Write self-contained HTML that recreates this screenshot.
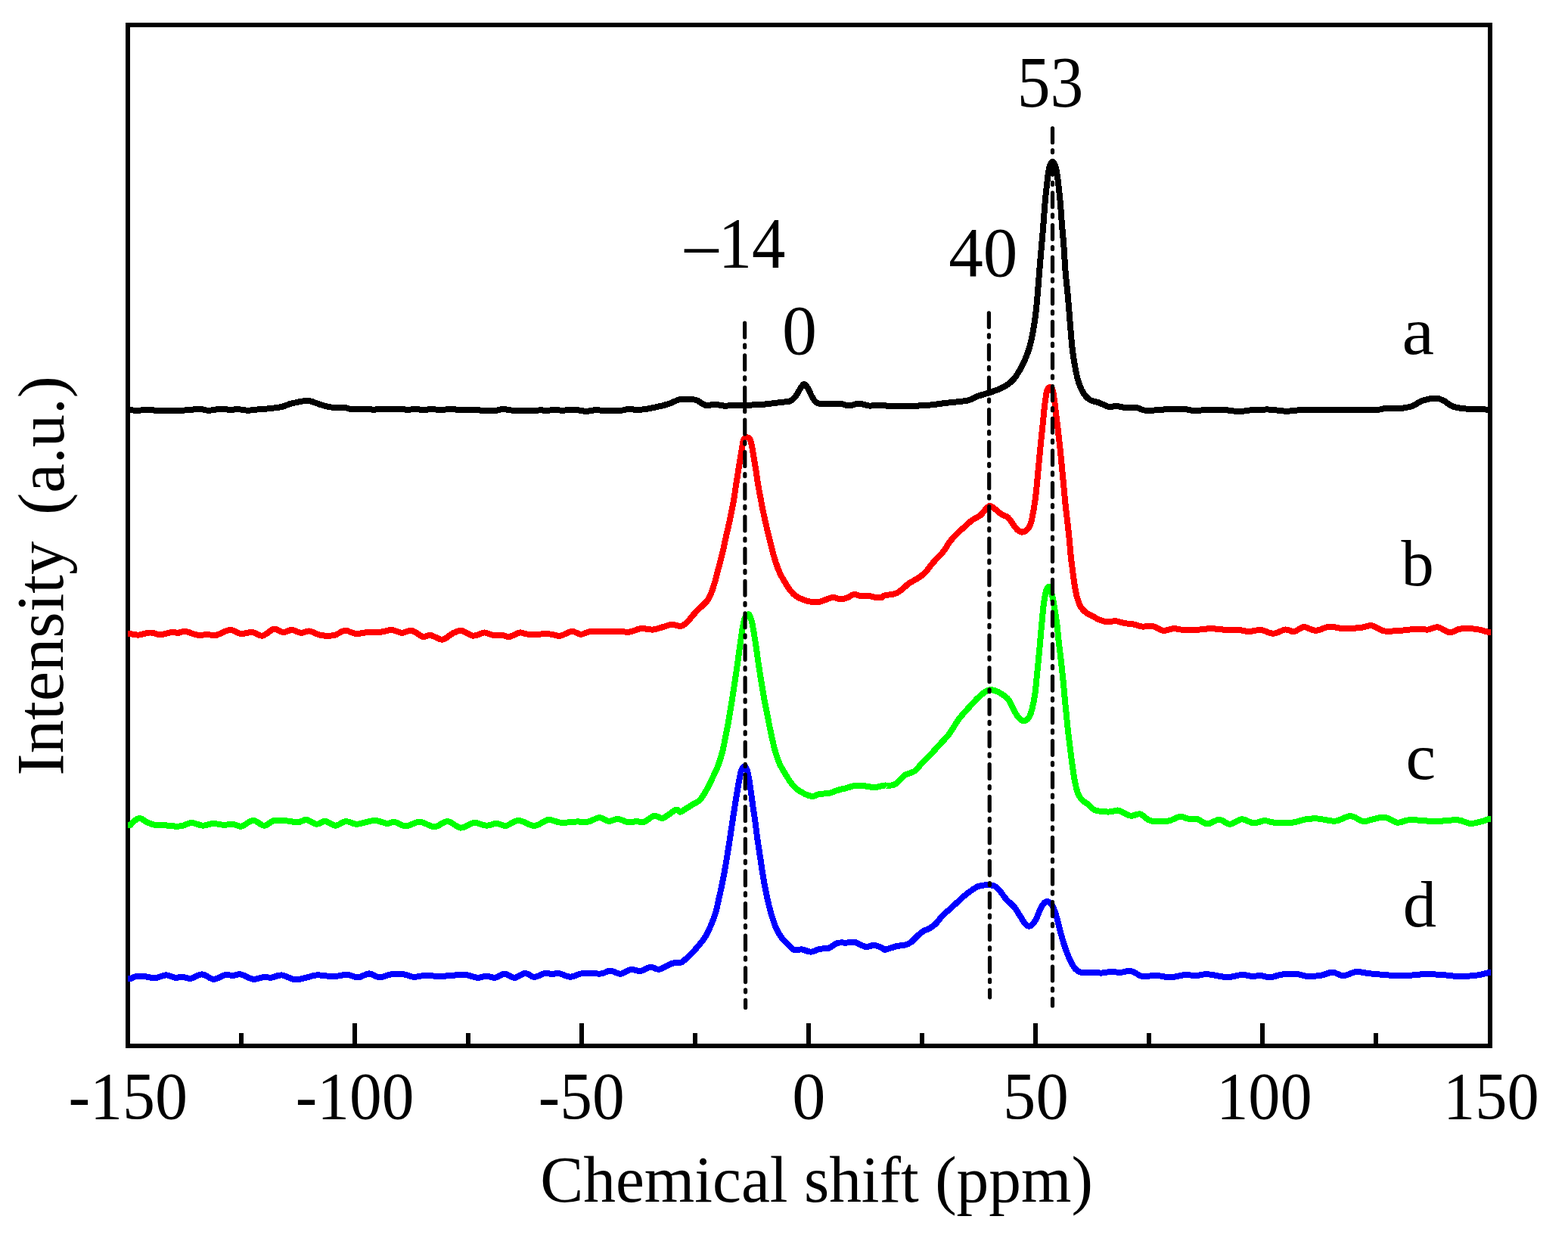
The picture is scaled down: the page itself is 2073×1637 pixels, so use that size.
<!DOCTYPE html>
<html lang="en">
<head>
<meta charset="utf-8">
<title>NMR spectra</title>
<style>
html,body{margin:0;padding:0;background:#fff;}
body{width:2073px;height:1637px;overflow:hidden;}
svg{display:block;}
text{font-family:"Liberation Serif","Times New Roman",Times,serif;fill:#000;white-space:pre;}
.curve{fill:none;stroke-width:8;stroke-linejoin:round;stroke-linecap:butt;shape-rendering:crispEdges;}
.dd{fill:none;stroke:#000;stroke-width:5.2;stroke-dasharray:18.8 10.2 3 10.63;stroke-linecap:round;}
.ax{fill:none;stroke:#000;stroke-width:6;}
</style>
</head>
<body>
<svg width="2073" height="1637" viewBox="0 0 2073 1637">
<rect x="0" y="0" width="2073" height="1637" fill="#ffffff"/>
<g id="axes">
<rect class="ax" x="169" y="33" width="1801" height="1350"/>
<path class="ax" d="M319,1366V1382M469,1353V1382M619,1366V1382M769,1353V1382M919,1366V1382M1069,1353V1382M1219,1366V1382M1369,1353V1382M1519,1366V1382M1669,1353V1382M1819,1366V1382"/>
</g>
<g id="curves">
<path class="curve" stroke="#000000" d="M169,542.3L172.2,542.3C174.0,542.4 179.6,542.8 183.2,542.7C186.8,542.6 189.6,541.9 193.8,541.9C198.0,541.9 201.0,542.6 208.2,542.7C215.4,542.8 230.1,542.8 237.2,542.7C244.3,542.6 246.2,542.4 250.7,542.1C255.2,541.8 260.0,540.6 264.2,540.7C268.4,540.8 271.3,542.8 275.8,542.8C280.3,542.8 286.4,540.9 291.2,540.7C296.0,540.6 300.8,541.8 304.7,541.9C308.6,542.0 310.5,541.0 314.4,541.1C318.3,541.2 323.1,542.7 327.9,542.7C332.7,542.7 339.1,541.5 343.3,541.1C347.5,540.7 348.2,541.0 353.0,540.5C357.8,540.0 367.5,539.0 372.3,538.0C377.1,537.0 378.7,535.5 381.9,534.5C385.1,533.5 387.7,533.0 391.5,532.2C395.3,531.4 401.1,530.1 404.7,529.9C408.2,529.7 409.5,530.2 412.8,531.1C416.1,532.0 419.9,534.0 424.4,535.3C428.9,536.6 434.3,538.1 439.8,538.8C445.3,539.4 453.0,538.8 457.2,539.2C461.4,539.6 459.8,540.8 464.9,541.1C470.0,541.4 483.2,540.9 488.0,541.1C492.8,541.3 491.9,542.3 493.8,542.3C495.7,542.3 493.8,541.3 499.6,541.1C506.0,540.9 526.0,540.9 532.4,541.1C538.2,541.3 536.0,542.3 538.2,542.3C540.5,542.3 542.7,541.2 545.9,541.1C549.1,541.0 554.5,541.6 557.5,541.7C560.5,541.8 561.9,541.8 563.9,541.7C565.9,541.6 566.4,541.1 569.6,541.1C572.8,541.1 578.7,541.9 583.2,541.9C587.7,541.9 592.9,540.9 596.7,540.9C600.6,540.9 601.2,541.7 606.3,541.9C611.4,542.1 621.4,542.1 627.5,542.3C633.6,542.4 638.2,542.7 643.0,542.8C647.8,542.9 652.8,543.1 656.5,542.7C660.2,542.4 661.7,540.7 665.2,540.7C668.7,540.7 670.5,542.4 677.7,542.7C684.9,543.0 702.5,542.8 708.6,542.7C714.4,542.6 712.1,542.1 714.4,542.1C716.6,542.1 718.9,543.0 722.1,543.0C725.3,543.0 730.2,541.9 733.7,541.9C737.2,541.9 738.8,542.7 743.3,542.7C747.8,542.7 755.4,541.7 760.7,541.9C766.0,542.1 770.3,543.8 775.1,543.8C779.9,543.8 786.2,541.9 789.6,541.7C793.0,541.5 790.2,542.6 795.4,542.8C800.5,543.0 814.7,543.1 820.5,542.8C826.3,542.5 826.9,541.1 830.1,540.9C833.3,540.7 836.2,541.6 839.8,541.7C843.3,541.8 846.6,541.9 851.4,541.3C856.2,540.7 863.2,539.2 868.7,538.0C874.2,536.8 879.4,535.6 884.2,534.0C889.0,532.4 893.9,529.4 897.7,528.4C901.6,527.4 903.4,527.9 907.3,528.0C911.1,528.1 916.6,527.8 920.8,529.1C925.0,530.4 928.2,534.7 932.4,535.7C936.6,536.7 941.7,534.7 945.9,534.9C950.1,535.1 954.8,536.4 957.5,536.7C960.2,537.0 958.3,536.6 961.9,536.5C965.5,536.4 972.2,536.1 979.3,535.9C986.4,535.7 998.0,535.5 1004.4,535.1C1010.8,534.8 1013.1,534.3 1017.9,533.8C1022.7,533.2 1028.8,532.4 1033.3,531.8C1037.8,531.2 1041.7,531.8 1044.9,530.3C1048.1,528.8 1050.3,525.8 1052.6,523.0C1054.8,520.2 1056.6,515.8 1058.4,513.3C1060.2,510.8 1061.6,507.9 1063.2,507.9C1064.8,507.9 1066.3,510.5 1068.1,513.3C1069.9,516.1 1071.7,521.6 1073.8,524.9C1075.9,528.2 1077.0,531.5 1080.6,533.0C1084.1,534.5 1090.1,534.1 1095.1,534.2C1100.1,534.3 1105.8,533.4 1110.5,533.8C1115.2,534.2 1119.0,536.5 1123.0,536.5C1127.0,536.5 1130.2,533.6 1134.6,533.6C1138.9,533.6 1144.4,536.1 1149.1,536.5C1153.8,536.9 1157.1,535.6 1162.6,535.7C1168.1,535.9 1175.5,537.2 1181.9,537.4C1188.3,537.6 1193.2,537.4 1201.2,537.1C1209.2,536.8 1222.1,536.2 1230.1,535.5C1238.1,534.8 1241.4,534.0 1249.4,533.0C1257.5,532.0 1271.2,531.2 1278.4,529.7C1285.6,528.2 1286.6,526.0 1292.3,524.0C1298.0,522.0 1306.6,519.9 1312.6,517.7C1318.6,515.5 1323.9,513.5 1328.4,510.9C1332.9,508.3 1336.3,505.7 1339.7,501.9C1343.1,498.1 1346.2,492.8 1348.8,488.3C1351.4,483.8 1353.4,479.6 1355.5,474.7C1357.6,469.8 1359.5,464.9 1361.2,458.9C1362.9,452.9 1364.4,445.8 1365.7,438.6C1367.0,431.5 1368.1,423.5 1369.1,416.0C1370.0,408.5 1370.6,402.8 1371.4,393.4C1372.2,384.0 1373.2,370.8 1374.1,359.5C1375.0,348.2 1376.1,335.8 1377.0,325.6C1377.9,315.4 1378.5,307.9 1379.3,298.5C1380.0,289.1 1380.8,277.8 1381.5,269.1C1382.2,260.4 1383.0,253.3 1383.8,246.5C1384.5,239.7 1385.2,233.1 1386.0,228.4C1386.8,223.7 1387.4,220.6 1388.3,218.2C1389.2,215.8 1390.5,213.7 1391.5,213.7C1392.5,213.7 1393.6,215.8 1394.6,218.2C1395.6,220.6 1396.5,223.7 1397.3,228.4C1398.1,233.1 1398.8,239.7 1399.6,246.5C1400.4,253.3 1401.2,260.4 1401.9,269.1C1402.7,277.8 1403.3,289.1 1404.1,298.5C1404.8,307.9 1405.7,315.4 1406.4,325.6C1407.2,335.8 1407.7,348.2 1408.6,359.5C1409.5,370.8 1411.0,382.1 1412.0,393.4C1413.0,404.7 1413.8,416.0 1414.7,427.3C1415.7,438.6 1416.6,451.8 1417.7,461.2C1418.8,470.6 1419.8,476.6 1421.1,483.8C1422.4,491.0 1423.7,498.1 1425.6,504.1C1427.5,510.1 1429.8,515.8 1432.4,519.9C1435.0,524.0 1438.0,526.9 1441.4,529.0C1444.8,531.1 1448.6,530.9 1452.7,532.4C1456.8,533.9 1462.5,537.2 1466.3,538.0C1470.1,538.8 1471.5,536.7 1475.3,536.9C1479.1,537.1 1484.4,538.9 1488.9,539.2C1493.4,539.6 1498.1,538.4 1502.5,539.0C1506.9,539.6 1508.5,542.5 1515.5,542.9C1522.5,543.2 1536.0,541.5 1544.2,541.1C1552.5,540.8 1559.3,540.5 1565.0,540.8C1570.7,541.1 1572.9,542.7 1578.1,542.9C1583.3,543.1 1588.9,542.2 1596.3,542.1C1603.7,542.0 1615.3,542.0 1622.3,542.4C1629.2,542.8 1632.3,544.2 1638.0,544.2C1643.7,544.2 1649.3,542.5 1656.2,542.1C1663.1,541.7 1672.2,541.3 1679.6,541.6C1687.0,541.9 1692.7,543.7 1700.5,543.7C1708.3,543.7 1717.8,541.8 1726.5,541.6C1735.2,541.4 1743.9,542.4 1752.6,542.4C1761.3,542.4 1769.9,541.6 1778.6,541.6C1787.3,541.6 1797.8,542.3 1804.7,542.4C1811.7,542.5 1815.5,542.5 1820.3,542.1C1825.1,541.7 1828.5,540.1 1833.3,539.8C1838.1,539.5 1843.3,540.8 1849.0,540.3C1854.7,539.8 1862.0,538.6 1867.2,536.9C1872.4,535.2 1875.0,531.6 1880.2,529.9C1885.4,528.2 1893.7,526.7 1898.5,526.7C1903.3,526.7 1905.4,528.2 1908.9,529.9C1912.4,531.6 1915.0,535.2 1919.3,536.9C1923.6,538.6 1927.0,539.5 1934.9,540.3C1942.8,541.1 1961.5,541.4 1966.8,541.6L1971,541.6"/>
<path class="curve" stroke="#ff0000" d="M169,838.0L172.2,838.0C174.0,838.3 178.8,839.9 183.2,839.6C187.6,839.4 193.8,836.6 198.6,836.5C203.4,836.4 207.3,839.3 212.1,839.2C216.9,839.1 223.6,836.3 227.5,835.9C231.4,835.5 232.4,837.1 235.3,836.9C238.2,836.7 240.4,834.4 244.9,834.9C249.4,835.4 257.5,839.4 262.3,840.0C267.1,840.6 270.0,838.8 273.8,838.8C277.6,838.8 280.4,841.0 285.4,840.0C290.4,839.0 298.3,833.3 303.8,833.0C309.3,832.7 313.2,837.5 318.2,838.0C323.2,838.5 328.9,835.6 333.7,836.1C338.5,836.6 342.1,841.4 346.8,840.7C351.6,840.0 357.6,832.6 362.2,831.8C366.8,831.0 370.3,835.9 374.2,836.1C378.1,836.3 381.8,832.9 385.8,833.0C389.8,833.1 394.5,836.6 398.3,836.9C402.1,837.1 404.5,834.0 408.9,834.5C413.2,835.0 418.9,839.1 424.4,840.0C429.9,840.9 436.4,841.0 441.7,840.0C447.0,839.0 451.4,834.1 456.2,833.8C461.0,833.5 465.4,837.7 470.7,838.0C476.0,838.3 482.5,836.1 488.0,835.7C493.5,835.3 498.5,836.2 503.5,835.7C508.5,835.2 513.2,832.8 517.9,833.0C522.5,833.2 527.0,836.8 531.4,836.9C535.8,837.0 539.6,833.1 544.0,833.8C548.4,834.5 554.5,840.0 557.5,841.3C560.5,842.6 559.9,841.9 561.9,841.7C563.9,841.5 565.7,839.3 569.6,840.0C573.5,840.7 580.3,846.1 585.1,845.7C589.9,845.3 594.4,839.4 598.6,837.4C602.8,835.4 605.7,833.5 610.2,834.0C614.7,834.5 620.6,840.3 625.6,840.7C630.6,841.1 635.9,836.7 640.1,836.5C644.3,836.3 646.7,839.0 650.7,839.6C654.7,840.2 660.4,839.6 664.2,840.0C668.1,840.4 669.9,842.5 673.8,841.9C677.7,841.3 683.2,837.0 687.4,836.5C691.6,836.0 692.5,838.5 698.9,838.8C705.3,839.1 719.0,838.1 725.9,838.4C732.8,838.7 735.4,841.3 740.4,840.7C745.4,840.1 751.2,835.2 755.9,834.9C760.6,834.6 764.1,838.8 768.4,838.8C772.7,838.8 773.5,835.5 781.9,834.9C790.3,834.2 810.2,834.8 818.6,834.9C827.0,835.0 827.3,836.3 832.1,835.7C836.9,835.1 842.4,831.6 847.5,831.1C852.6,830.6 858.1,832.9 862.9,832.6C867.7,832.3 872.2,830.2 876.4,829.1C880.6,828.0 884.1,826.1 888.0,825.9C891.9,825.7 896.4,828.3 899.6,828.0C902.8,827.7 904.2,826.7 907.3,823.9C910.4,821.1 914.9,814.8 918.3,811.1C921.7,807.4 924.6,804.8 927.5,801.9C930.4,799.0 933.3,797.0 935.6,793.6C937.8,790.2 939.5,786.1 941.2,781.7C942.9,777.3 944.2,772.6 945.8,767.1C947.4,761.6 949.0,755.1 950.6,748.7C952.3,742.3 954.2,735.0 955.8,728.6C957.3,722.2 958.2,717.0 959.7,710.3C961.2,703.6 963.1,695.9 964.7,688.3C966.3,680.7 968.2,672.1 969.5,664.5C970.9,656.9 971.8,649.8 972.9,642.5C974.1,635.2 975.4,626.9 976.4,620.5C977.4,614.1 978.3,609.2 979.1,604.0C980.0,598.8 980.8,593.1 981.5,589.3C982.2,585.5 982.3,582.9 983.4,581.1C984.5,579.3 986.6,578.3 988.0,578.3C989.4,578.3 990.6,579.3 991.6,581.1C992.6,582.9 993.1,585.5 993.9,589.3C994.7,593.1 995.5,598.8 996.4,604.0C997.3,609.2 998.3,614.7 999.2,620.5C1000.1,626.3 1000.8,632.1 1001.9,638.8C1003.0,645.5 1004.5,653.8 1005.9,660.8C1007.2,667.8 1008.4,673.9 1009.9,680.9C1011.4,687.9 1013.2,695.9 1014.9,702.9C1016.5,709.9 1018.1,716.4 1019.8,723.1C1021.6,729.8 1023.6,737.5 1025.5,743.3C1027.4,749.1 1029.0,753.3 1031.1,757.9C1033.2,762.5 1035.9,766.9 1038.2,770.7C1040.5,774.5 1042.5,777.9 1044.8,780.8C1047.1,783.7 1049.3,786.1 1052.1,788.1C1054.8,790.1 1057.9,791.4 1061.3,792.7C1064.7,794.0 1068.6,795.3 1072.3,795.8C1076.0,796.3 1079.9,796.3 1083.3,795.8C1086.7,795.3 1089.4,793.7 1092.4,792.7C1095.5,791.7 1098.5,790.0 1101.6,790.0C1104.6,790.0 1107.7,792.3 1110.7,792.4C1113.8,792.5 1116.8,791.6 1119.9,790.5C1123.0,789.4 1126.0,786.3 1129.1,785.9C1132.1,785.5 1134.8,787.7 1138.2,788.1C1141.6,788.5 1145.8,787.8 1149.2,788.1C1152.6,788.4 1155.7,789.7 1158.4,790.0C1161.2,790.3 1163.8,790.5 1165.7,790.0C1167.6,789.5 1167.0,788.1 1170.0,787.3C1173.0,786.5 1179.8,786.3 1183.6,785.0C1187.4,783.7 1189.6,781.6 1192.6,779.4C1195.6,777.1 1197.8,774.1 1201.6,771.5C1205.4,768.9 1211.4,766.1 1215.2,763.5C1219.0,760.9 1221.3,758.8 1224.3,755.6C1227.3,752.4 1229.5,748.6 1233.3,744.3C1237.1,740.0 1243.1,734.3 1246.9,729.6C1250.7,724.9 1252.9,720.1 1255.9,716.1C1258.9,712.1 1261.5,709.3 1264.9,705.9C1268.3,702.5 1272.9,698.7 1276.3,695.7C1279.7,692.7 1281.9,690.2 1285.3,687.8C1288.7,685.3 1293.6,683.5 1296.6,681.0C1299.6,678.5 1301.3,675.1 1303.4,673.1C1305.5,671.1 1306.8,668.8 1309.0,669.0C1311.2,669.2 1314.5,672.4 1316.9,674.2C1319.4,676.0 1321.1,678.2 1323.7,679.9C1326.3,681.6 1330.2,682.1 1332.8,684.4C1335.4,686.7 1337.4,690.8 1339.5,693.5C1341.6,696.2 1343.3,699.0 1345.2,700.7C1347.1,702.4 1348.8,703.6 1350.9,703.6C1353.0,703.6 1355.7,702.4 1357.6,700.7C1359.5,699.0 1361.0,696.6 1362.2,693.5C1363.4,690.4 1364.0,687.9 1365.1,682.2C1366.2,676.5 1367.8,667.0 1368.8,659.5C1369.8,652.0 1370.4,644.8 1371.2,636.9C1372.0,629.0 1372.7,620.4 1373.5,612.1C1374.3,603.8 1375.1,595.5 1375.9,587.2C1376.7,578.9 1377.7,570.2 1378.5,562.3C1379.3,554.4 1380.0,546.1 1380.7,539.7C1381.4,533.3 1382.2,528.0 1382.8,523.9C1383.5,519.8 1383.9,516.8 1384.8,514.9C1385.7,513.0 1387.1,512.0 1388.2,512.2C1389.3,512.4 1390.7,512.9 1391.7,516.0C1392.7,519.1 1393.4,525.2 1394.2,530.7C1395.0,536.2 1395.5,542.4 1396.3,548.8C1397.1,555.2 1398.0,562.0 1398.8,569.1C1399.6,576.2 1400.5,583.8 1401.4,591.7C1402.2,599.6 1403.0,608.3 1403.8,616.6C1404.6,624.9 1405.4,633.2 1406.2,641.5C1407.0,649.8 1407.7,658.4 1408.5,666.3C1409.3,674.2 1410.2,681.4 1411.1,688.9C1411.9,696.4 1412.8,704.0 1413.6,711.5C1414.3,719.0 1414.9,727.4 1415.6,734.2C1416.3,741.0 1416.9,745.8 1417.8,752.2C1418.6,758.6 1419.6,766.6 1420.5,772.6C1421.5,778.6 1422.3,783.5 1423.6,788.4C1425.0,793.3 1426.6,798.4 1428.6,802.0C1430.6,805.6 1432.7,807.6 1435.6,809.9C1438.5,812.1 1442.6,813.8 1445.8,815.5C1449.0,817.2 1451.8,819.0 1454.8,820.1C1457.8,821.2 1460.5,822.1 1463.9,822.3C1467.3,822.5 1471.4,820.9 1475.2,821.2C1479.0,821.5 1482.7,823.4 1486.5,824.1C1490.3,824.8 1493.8,824.5 1497.8,825.3C1501.8,826.0 1506.0,828.2 1510.3,828.6C1514.6,829.0 1518.8,826.9 1523.4,827.8C1528.0,828.7 1532.9,833.2 1537.7,833.8C1542.5,834.4 1547.5,831.3 1552.0,831.2C1556.5,831.1 1559.3,832.8 1565.0,833.0C1570.7,833.2 1579.8,832.8 1585.9,832.5C1592.0,832.2 1595.4,831.1 1601.5,831.2C1607.6,831.3 1616.2,832.7 1622.3,833.0C1628.4,833.3 1633.2,832.6 1638.0,833.0C1642.8,833.4 1646.2,835.1 1651.0,835.1C1655.8,835.1 1661.2,832.6 1666.6,833.0C1672.0,833.4 1678.2,837.8 1683.6,837.7C1689.0,837.6 1694.7,832.9 1699.2,832.5C1703.8,832.1 1706.8,835.7 1710.9,835.1C1715.0,834.5 1719.1,829.3 1723.9,829.1C1728.7,828.9 1733.9,833.9 1739.6,833.8C1745.2,833.7 1751.7,829.0 1757.8,828.6C1763.9,828.2 1769.0,831.0 1776.0,831.2C1783.0,831.4 1793.2,830.5 1799.5,829.9C1805.8,829.2 1808.8,826.6 1813.8,827.3C1818.8,828.0 1823.1,833.2 1829.4,834.3C1835.7,835.4 1844.4,834.2 1851.6,833.8C1858.8,833.4 1866.3,831.9 1872.4,831.7C1878.5,831.5 1883.2,832.9 1888.0,832.5C1892.8,832.1 1896.3,828.6 1901.1,829.3C1905.9,829.9 1911.9,836.0 1916.7,836.4C1921.5,836.8 1924.1,832.5 1929.7,831.7C1935.3,830.9 1944.3,831.1 1950.5,831.7C1956.7,832.4 1964.1,835.0 1966.8,835.6L1971,835.6"/>
<path class="curve" stroke="#00ff00" d="M169,1091.3L172.2,1091.3C173.1,1090.3 175.2,1087.0 177.4,1085.5C179.6,1084.0 182.2,1081.7 185.1,1082.0C188.0,1082.3 191.5,1086.0 194.7,1087.4C197.9,1088.9 200.5,1090.1 204.4,1090.7C208.3,1091.3 213.1,1091.0 217.9,1091.3C222.7,1091.6 229.5,1092.6 233.3,1092.7C237.2,1092.8 237.6,1092.7 241.0,1091.9C244.4,1091.1 249.1,1088.0 253.6,1088.0C258.1,1088.0 263.4,1091.5 268.1,1091.7C272.8,1091.9 277.1,1089.2 281.6,1089.0C286.1,1088.8 290.6,1090.5 295.1,1090.7C299.6,1090.9 304.6,1089.7 308.6,1090.0C312.6,1090.3 314.9,1093.5 319.2,1092.7C323.5,1091.9 329.6,1085.1 334.6,1084.9C339.6,1084.7 344.4,1091.7 349.1,1091.7C353.8,1091.7 357.5,1085.9 362.6,1084.9C367.8,1083.9 374.9,1085.1 380.0,1085.5C385.1,1085.9 389.3,1087.7 393.5,1087.4C397.7,1087.2 401.2,1083.6 405.4,1084.0C409.6,1084.4 414.5,1089.5 418.6,1089.8C422.7,1090.1 425.9,1085.6 430.1,1085.9C434.3,1086.2 439.1,1091.7 443.6,1091.7C448.1,1091.7 452.7,1086.4 457.2,1086.1C461.7,1085.8 466.2,1089.6 470.7,1089.8C475.2,1090.0 479.9,1087.9 484.2,1087.1C488.5,1086.3 492.2,1084.6 496.7,1084.9C501.2,1085.2 507.0,1088.4 511.2,1088.8C515.4,1089.2 517.6,1086.5 521.8,1087.1C526.0,1087.7 531.3,1092.3 536.3,1092.3C541.3,1092.3 548.0,1087.9 551.7,1087.1C555.4,1086.3 556.8,1087.1 558.5,1087.4C560.2,1087.7 559.1,1087.8 561.9,1088.8C564.7,1089.8 570.4,1093.7 575.4,1093.2C580.4,1092.8 586.2,1085.9 591.8,1086.1C597.4,1086.3 603.4,1094.3 609.2,1094.6C615.0,1094.9 621.0,1088.5 626.6,1088.0C632.2,1087.5 638.0,1091.6 643.0,1091.7C648.0,1091.8 652.2,1088.8 656.5,1088.8C660.8,1088.8 664.2,1092.6 669.0,1091.9C673.8,1091.2 679.1,1084.9 685.4,1084.9C691.7,1084.9 700.0,1092.1 706.6,1091.9C713.2,1091.8 719.2,1084.7 725.0,1084.0C730.8,1083.3 735.1,1087.4 741.4,1087.8C747.7,1088.2 756.5,1086.7 762.6,1086.5C768.7,1086.3 773.0,1087.4 778.0,1086.5C783.0,1085.6 788.0,1081.2 792.5,1081.1C797.0,1081.0 801.1,1085.6 805.1,1085.9C809.1,1086.2 812.3,1082.8 816.6,1083.0C820.9,1083.2 826.9,1086.9 831.1,1087.4C835.3,1087.9 838.3,1086.2 841.7,1086.1C845.1,1086.0 847.5,1088.1 851.4,1086.9C855.3,1085.7 860.7,1079.7 864.9,1078.8C869.1,1077.9 871.7,1083.0 876.4,1081.7C881.1,1080.4 889.3,1072.5 892.9,1071.0C896.5,1069.5 896.5,1072.2 897.7,1072.6C898.9,1073.0 898.0,1074.2 900.0,1073.4C902.0,1072.6 906.9,1069.3 909.8,1067.5C912.7,1065.7 915.0,1064.2 917.6,1062.6C920.2,1061.0 922.8,1060.6 925.4,1057.8C928.0,1055.0 930.6,1050.6 933.2,1046.0C935.8,1041.4 938.4,1035.9 941.1,1030.4C943.8,1024.9 946.9,1019.0 949.2,1012.8C951.6,1006.6 953.6,999.8 955.3,993.3C956.9,986.8 958.0,980.6 959.3,973.7C960.7,966.9 962.1,960.0 963.4,952.2C964.8,944.4 966.2,935.6 967.6,926.8C969.0,918.0 970.4,908.5 971.8,899.4C973.2,890.3 974.6,880.2 975.8,872.1C976.9,864.0 977.7,857.5 978.7,850.6C979.7,843.8 980.6,836.5 981.6,831.0C982.6,825.5 983.4,820.5 984.6,817.4C985.8,814.3 988.0,813.1 989.0,812.5C990.0,811.9 990.1,812.0 990.9,813.5C991.7,815.0 992.8,817.4 993.8,821.3C994.8,825.2 995.7,831.0 996.7,836.9C997.7,842.8 998.8,849.6 999.8,856.4C1000.8,863.2 1001.6,870.1 1002.8,877.9C1004.0,885.7 1005.5,895.2 1006.8,903.4C1008.2,911.5 1009.3,918.7 1010.8,926.8C1012.3,934.9 1014.2,944.1 1015.8,952.2C1017.4,960.4 1019.0,968.5 1020.6,975.7C1022.2,982.9 1023.7,989.4 1025.4,995.2C1027.2,1001.1 1028.9,1005.9 1031.1,1010.8C1033.4,1015.7 1036.3,1020.2 1038.9,1024.5C1041.5,1028.8 1044.0,1033.0 1046.6,1036.3C1049.2,1039.6 1051.5,1041.8 1054.4,1044.1C1057.3,1046.4 1061.0,1048.4 1064.2,1049.9C1067.5,1051.4 1070.7,1052.9 1073.9,1052.9C1077.2,1052.9 1080.1,1050.6 1083.7,1049.9C1087.3,1049.2 1091.5,1049.8 1095.4,1049.0C1099.3,1048.2 1103.3,1046.2 1107.2,1045.0C1111.1,1043.8 1115.0,1043.1 1118.9,1042.1C1122.8,1041.1 1126.7,1039.3 1130.6,1038.8C1134.5,1038.3 1138.1,1038.8 1142.3,1039.2C1146.5,1039.6 1151.8,1041.2 1156.0,1041.1C1160.2,1041.0 1165.5,1039.2 1167.8,1038.8C1170.0,1038.4 1167.8,1038.6 1170.0,1038.5C1172.2,1038.4 1177.9,1039.1 1181.0,1038.1C1184.1,1037.1 1186.1,1034.8 1188.7,1032.6C1191.3,1030.4 1192.9,1027.1 1196.4,1024.9C1199.9,1022.7 1205.9,1022.0 1209.6,1019.4C1213.3,1016.8 1214.7,1013.4 1218.4,1009.5C1222.1,1005.6 1227.6,1000.5 1231.6,996.3C1235.6,992.1 1238.9,988.2 1242.6,984.2C1246.3,980.2 1250.3,976.3 1253.6,972.1C1256.9,967.9 1259.8,962.8 1262.4,958.9C1265.0,955.0 1266.4,952.3 1269.0,949.0C1271.6,945.7 1274.9,942.4 1277.8,939.1C1280.7,935.8 1283.7,932.3 1286.6,929.2C1289.5,926.1 1292.5,923.0 1295.4,920.4C1298.3,917.8 1301.6,915.2 1304.2,913.8C1306.8,912.4 1308.2,911.9 1310.8,912.1C1313.3,912.3 1316.6,913.5 1319.5,914.9C1322.4,916.3 1325.9,918.6 1328.3,920.4C1330.7,922.2 1332.0,923.1 1333.8,925.9C1335.6,928.6 1337.3,933.2 1339.3,936.9C1341.3,940.6 1343.7,945.1 1345.9,947.9C1348.1,950.6 1350.1,953.2 1352.5,953.4C1354.9,953.6 1358.2,951.8 1360.2,949.0C1362.2,946.2 1363.2,942.2 1364.6,936.9C1366.0,931.6 1367.4,924.4 1368.4,917.1C1369.5,909.8 1370.1,901.0 1370.9,893.0C1371.7,885.0 1372.5,876.9 1373.3,868.8C1374.1,860.7 1374.8,852.7 1375.5,844.6C1376.2,836.5 1377.0,828.1 1377.7,820.4C1378.4,812.7 1379.1,804.6 1379.9,798.4C1380.7,792.2 1381.8,786.5 1382.6,783.0C1383.4,779.5 1384.0,778.6 1384.8,777.5C1385.6,776.4 1386.6,774.8 1387.6,776.4C1388.6,778.0 1389.9,782.6 1391.0,787.4C1392.1,792.2 1393.2,798.4 1394.3,805.0C1395.4,811.6 1396.7,819.7 1397.6,827.0C1398.5,834.3 1398.9,841.3 1399.8,849.0C1400.7,856.7 1401.8,865.2 1402.7,873.2C1403.6,881.2 1404.5,889.2 1405.3,897.3C1406.1,905.3 1406.8,913.8 1407.5,921.5C1408.2,929.2 1409.0,936.2 1409.7,943.5C1410.4,950.8 1411.1,958.2 1411.9,965.5C1412.7,972.8 1413.7,980.2 1414.6,987.5C1415.5,994.8 1416.4,1002.2 1417.4,1009.5C1418.4,1016.8 1419.4,1024.9 1420.7,1031.5C1422.0,1038.1 1423.4,1044.7 1425.1,1049.1C1426.8,1053.5 1428.4,1055.5 1430.6,1057.9C1432.8,1060.3 1435.5,1061.2 1438.3,1063.4C1441.0,1065.6 1443.4,1069.4 1447.1,1071.1C1450.8,1072.8 1456.6,1072.9 1460.3,1073.3C1464.0,1073.7 1466.2,1073.6 1469.1,1073.3C1472.0,1073.0 1475.0,1071.1 1477.9,1071.5C1480.8,1071.9 1483.8,1074.3 1486.7,1075.5C1489.6,1076.7 1492.0,1078.6 1495.5,1078.8C1499.0,1079.0 1503.5,1075.5 1507.7,1076.5C1511.9,1077.5 1514.7,1083.6 1520.8,1085.1C1526.9,1086.6 1537.7,1086.5 1544.2,1085.6C1550.7,1084.7 1555.5,1080.4 1559.8,1079.9C1564.1,1079.4 1566.3,1081.9 1570.2,1082.5C1574.1,1083.1 1579.0,1082.1 1583.3,1083.3C1587.6,1084.5 1591.5,1089.4 1596.3,1089.5C1601.1,1089.6 1606.9,1083.8 1611.9,1083.8C1616.9,1083.8 1621.2,1089.9 1626.2,1089.8C1631.2,1089.7 1636.7,1083.5 1641.9,1083.3C1647.1,1083.1 1652.5,1088.2 1657.5,1088.5C1662.5,1088.8 1667.2,1085.2 1671.8,1085.1C1676.4,1085.0 1678.8,1087.3 1684.9,1087.7C1691.0,1088.1 1701.4,1088.4 1708.3,1087.7C1715.2,1087.0 1720.8,1084.2 1726.5,1083.3C1732.2,1082.4 1735.7,1082.1 1742.2,1082.5C1748.7,1082.9 1758.4,1086.2 1765.6,1085.6C1772.8,1085.0 1779.0,1079.0 1785.1,1079.1C1791.2,1079.1 1797.1,1085.2 1802.1,1085.9C1807.1,1086.6 1810.3,1084.2 1815.1,1083.3C1819.9,1082.4 1825.3,1079.9 1830.7,1080.6C1836.1,1081.3 1842.5,1087.1 1847.7,1087.7C1852.9,1088.3 1856.2,1084.7 1862.0,1084.3C1867.8,1083.9 1877.2,1084.8 1882.8,1085.1C1888.4,1085.4 1888.4,1086.5 1895.8,1086.4C1903.2,1086.3 1919.1,1083.9 1927.1,1084.3C1935.1,1084.7 1938.3,1088.8 1944.0,1089.0C1949.7,1089.2 1957.2,1086.5 1961.0,1085.6C1964.8,1084.6 1965.8,1083.7 1966.8,1083.3L1971,1083.3"/>
<path class="curve" stroke="#0000ff" d="M169,1294.2L172.2,1294.2C173.4,1293.7 176.5,1291.9 179.3,1291.3C182.1,1290.7 184.7,1290.4 188.9,1290.7C193.1,1291.0 199.2,1293.4 204.4,1293.2C209.6,1293.0 215.3,1289.5 219.8,1289.4C224.3,1289.3 227.9,1292.4 231.4,1292.8C234.9,1293.2 237.5,1291.7 241.0,1291.9C244.5,1292.1 248.2,1294.4 252.6,1293.8C256.9,1293.2 262.1,1288.2 267.1,1288.4C272.1,1288.6 277.5,1294.6 282.5,1294.8C287.5,1295.0 292.6,1290.2 297.0,1289.4C301.4,1288.6 305.1,1290.0 308.6,1289.8C312.1,1289.6 313.9,1287.6 318.2,1288.4C322.5,1289.2 329.5,1294.2 334.6,1294.8C339.8,1295.4 345.1,1292.2 349.1,1291.9C353.1,1291.6 354.8,1293.1 358.7,1292.7C362.6,1292.3 367.1,1289.0 372.3,1289.4C377.5,1289.8 384.5,1294.6 389.6,1295.2C394.7,1295.8 398.3,1294.2 403.1,1293.2C407.9,1292.2 413.5,1289.8 418.6,1289.4C423.8,1289.0 429.5,1290.5 434.0,1290.7C438.5,1290.9 441.4,1291.0 445.6,1290.7C449.8,1290.4 454.4,1288.5 459.1,1288.8C463.8,1289.1 468.8,1292.5 473.6,1292.3C478.4,1292.1 483.4,1287.4 488.0,1287.4C492.6,1287.4 496.7,1292.1 501.5,1292.3C506.3,1292.5 511.9,1289.1 517.0,1288.4C522.1,1287.7 527.6,1287.5 532.4,1288.0C537.2,1288.5 541.5,1291.3 545.9,1291.7C550.2,1292.1 555.8,1290.6 558.5,1290.3C561.2,1290.0 560.0,1289.8 561.9,1289.8C563.8,1289.8 566.7,1290.1 569.6,1290.3C572.5,1290.5 575.1,1290.7 579.3,1290.7C583.5,1290.7 589.9,1290.6 594.7,1290.3C599.5,1290.0 604.3,1288.9 608.2,1288.8C612.1,1288.7 614.0,1288.7 617.9,1289.4C621.8,1290.1 627.2,1292.6 631.4,1292.8C635.6,1293.0 639.1,1290.7 643.0,1290.7C646.9,1290.7 650.5,1293.2 654.5,1292.7C658.5,1292.2 662.8,1287.8 667.1,1287.8C671.5,1287.8 676.1,1292.9 680.6,1292.8C685.1,1292.7 689.8,1287.1 694.1,1286.9C698.4,1286.8 702.2,1291.9 706.6,1291.9C711.0,1291.9 716.3,1287.6 720.2,1286.9C724.1,1286.2 726.6,1288.0 729.8,1288.0C733.0,1288.0 735.5,1286.5 739.5,1287.1C743.5,1287.7 749.1,1291.7 753.9,1291.7C758.7,1291.8 763.7,1288.2 768.4,1287.4C773.1,1286.6 777.4,1287.1 781.9,1287.1C786.4,1287.1 791.2,1288.0 795.4,1287.4C799.6,1286.8 802.8,1283.5 807.0,1283.6C811.2,1283.7 816.0,1288.1 820.5,1287.8C825.0,1287.5 829.7,1282.6 834.0,1282.0C838.3,1281.4 842.2,1284.5 846.5,1284.0C850.8,1283.5 855.8,1279.2 860.0,1278.8C864.2,1278.4 866.8,1282.5 871.6,1281.7C876.4,1280.9 883.8,1275.4 888.6,1273.9C893.3,1272.4 897.9,1273.0 900.3,1272.6C902.6,1272.2 900.6,1273.1 902.7,1271.4C904.7,1269.7 909.5,1265.8 912.7,1262.6C916.0,1259.3 919.0,1255.8 922.3,1251.9C925.5,1248.0 929.2,1243.9 932.1,1239.2C935.1,1234.5 937.6,1228.9 939.9,1223.5C942.2,1218.1 944.3,1212.6 946.1,1206.9C947.8,1201.2 948.7,1195.8 950.2,1189.3C951.7,1182.8 953.5,1174.9 954.9,1167.8C956.4,1160.7 957.6,1154.2 958.9,1146.4C960.3,1138.6 961.7,1129.7 963.1,1120.9C964.5,1112.1 966.0,1102.1 967.3,1093.6C968.6,1085.1 969.6,1077.9 970.9,1070.1C972.1,1062.3 973.5,1053.5 974.7,1046.7C975.8,1039.9 976.8,1033.8 977.8,1029.1C978.7,1024.4 979.2,1020.9 980.3,1018.3C981.4,1015.7 983.1,1013.6 984.3,1013.5C985.5,1013.4 986.4,1014.8 987.4,1017.4C988.3,1020.0 989.2,1024.2 990.1,1029.1C991.0,1034.0 991.9,1040.5 992.8,1046.7C993.7,1052.9 994.5,1059.4 995.4,1066.2C996.4,1073.0 997.6,1080.2 998.6,1087.7C999.6,1095.2 1000.4,1103.1 1001.6,1111.2C1002.8,1119.3 1004.2,1128.1 1005.5,1136.6C1006.8,1145.1 1007.9,1153.5 1009.4,1162.0C1010.9,1170.5 1012.6,1179.6 1014.3,1187.4C1016.0,1195.2 1017.7,1202.2 1019.7,1208.9C1021.7,1215.6 1023.8,1222.3 1026.1,1227.5C1028.4,1232.7 1031.3,1236.8 1033.7,1240.2C1036.1,1243.6 1037.9,1245.3 1040.7,1248.0C1043.5,1250.7 1047.2,1255.0 1050.5,1256.2C1053.8,1257.4 1056.7,1255.0 1060.3,1255.4C1063.9,1255.8 1068.1,1258.8 1072.0,1258.7C1075.9,1258.6 1079.8,1255.6 1083.7,1254.8C1087.6,1254.0 1091.5,1255.1 1095.4,1253.8C1099.3,1252.5 1103.3,1248.2 1107.2,1247.0C1111.1,1245.8 1115.0,1246.8 1118.9,1246.6C1122.8,1246.4 1126.4,1245.1 1130.6,1246.0C1134.8,1246.9 1140.1,1251.2 1144.3,1251.9C1148.5,1252.6 1152.1,1249.5 1156.0,1249.9C1159.9,1250.3 1165.5,1253.2 1167.8,1254.2C1170.0,1255.2 1168.3,1255.9 1170.0,1255.8C1171.7,1255.7 1175.5,1254.2 1178.2,1253.4C1180.9,1252.6 1183.4,1251.5 1186.4,1250.9C1189.4,1250.3 1193.2,1250.4 1196.2,1249.6C1199.2,1248.8 1201.7,1248.0 1204.4,1246.0C1207.1,1244.0 1209.9,1240.3 1212.6,1237.8C1215.3,1235.3 1218.1,1232.9 1220.8,1231.2C1223.5,1229.5 1226.3,1229.2 1229.0,1227.6C1231.7,1226.0 1234.5,1224.1 1237.2,1221.4C1239.9,1218.7 1242.4,1214.7 1245.4,1211.5C1248.4,1208.3 1252.0,1205.5 1255.3,1202.5C1258.6,1199.5 1261.8,1196.5 1265.1,1193.5C1268.4,1190.5 1271.7,1187.2 1275.0,1184.5C1278.3,1181.8 1281.8,1179.1 1284.8,1177.1C1287.8,1175.0 1290.3,1173.3 1293.0,1172.2C1295.7,1171.1 1298.6,1170.8 1301.2,1170.5C1303.8,1170.2 1306.1,1169.9 1308.6,1170.2C1311.1,1170.5 1313.7,1170.8 1316.0,1172.2C1318.3,1173.6 1320.3,1176.1 1322.5,1178.7C1324.7,1181.3 1326.9,1185.1 1329.1,1187.7C1331.3,1190.3 1333.5,1192.1 1335.7,1194.3C1337.9,1196.5 1340.0,1198.0 1342.2,1200.9C1344.4,1203.8 1346.6,1208.1 1348.8,1211.5C1351.0,1214.9 1353.4,1219.2 1355.3,1221.4C1357.2,1223.6 1358.6,1224.6 1360.3,1224.7C1362.0,1224.8 1363.6,1223.9 1365.2,1222.2C1366.8,1220.5 1368.6,1217.7 1370.1,1214.8C1371.6,1211.9 1372.8,1208.0 1374.2,1205.0C1375.6,1202.0 1376.8,1198.9 1378.3,1196.8C1379.8,1194.7 1381.4,1192.6 1383.2,1192.2C1385.0,1191.8 1387.2,1192.5 1389.0,1194.3C1390.8,1196.1 1392.4,1199.6 1393.9,1203.3C1395.4,1207.0 1396.8,1212.1 1398.0,1216.5C1399.2,1220.9 1400.1,1225.0 1401.3,1229.6C1402.5,1234.2 1403.9,1239.4 1405.4,1244.3C1406.9,1249.2 1408.5,1254.4 1410.3,1259.1C1412.1,1263.8 1414.0,1268.4 1416.0,1272.2C1418.0,1276.0 1420.1,1279.8 1422.6,1282.1C1425.1,1284.4 1427.0,1285.5 1430.8,1286.2C1434.6,1286.9 1441.1,1286.2 1445.5,1286.2C1449.9,1286.2 1453.2,1286.7 1457.0,1286.5C1460.8,1286.3 1464.4,1285.1 1468.5,1285.0C1472.6,1284.9 1477.8,1286.0 1481.6,1285.8C1485.4,1285.6 1488.6,1284.1 1491.5,1284.0C1494.4,1283.9 1495.8,1284.1 1498.9,1285.3C1502.0,1286.5 1505.3,1290.3 1510.3,1291.1C1515.2,1291.8 1522.5,1289.6 1528.6,1289.8C1534.7,1290.0 1540.3,1292.5 1546.8,1292.4C1553.3,1292.3 1561.9,1289.3 1567.6,1289.0C1573.2,1288.7 1575.9,1290.4 1580.7,1290.3C1585.5,1290.2 1589.4,1287.9 1596.3,1288.2C1603.2,1288.5 1614.7,1292.0 1622.3,1292.1C1629.9,1292.2 1636.2,1289.2 1641.9,1289.0C1647.6,1288.8 1652.1,1291.0 1656.2,1291.1C1660.3,1291.2 1662.9,1289.6 1666.6,1289.8C1670.3,1290.0 1673.5,1292.6 1678.3,1292.4C1683.1,1292.2 1689.4,1289.3 1695.3,1288.5C1701.2,1287.7 1707.9,1287.3 1713.5,1287.7C1719.1,1288.1 1723.4,1290.8 1729.1,1291.1C1734.8,1291.4 1742.0,1290.4 1747.4,1289.5C1752.8,1288.6 1756.9,1285.5 1761.7,1285.6C1766.5,1285.7 1770.8,1290.4 1776.0,1290.3C1781.2,1290.2 1787.3,1285.6 1793.0,1285.1C1798.7,1284.6 1802.8,1286.5 1809.9,1287.2C1817.1,1287.9 1828.1,1289.0 1835.9,1289.5C1843.7,1290.0 1849.0,1290.5 1856.8,1290.3C1864.6,1290.1 1874.5,1288.4 1882.8,1288.2C1891.0,1288.0 1898.5,1288.5 1906.3,1289.0C1914.1,1289.5 1921.9,1291.0 1929.7,1291.1C1937.5,1291.2 1947.0,1290.3 1953.2,1289.5C1959.4,1288.7 1964.5,1286.9 1966.8,1286.4L1971,1286.4"/>
</g>
<g id="guides">
<path class="dd" d="M984.6,427.2L985.6,1332.4"/>
<path class="dd" d="M1307.4,413.8L1308.6,1318.8"/>
<path class="dd" d="M1391.5,169.6V1330"/>
</g>
<g id="ticklabels">
<text font-size="87" transform="matrix(0.9894 0 0 1.0132 90.39 1479.42)">-150</text>
<text font-size="87" transform="matrix(0.9829 0 0 1.0132 390.71 1479.42)">-100</text>
<text font-size="87" transform="matrix(0.9825 0 0 1.0132 711.71 1479.42)">-50</text>
<text font-size="87" transform="matrix(1.0153 0 0 1.0132 1047.37 1479.42)">0</text>
<text font-size="87" transform="matrix(0.9962 0 0 1.0132 1326.10 1479.42)">50</text>
<text font-size="87" transform="matrix(0.9690 0 0 1.0132 1608.21 1479.42)">100</text>
<text font-size="87" transform="matrix(0.9716 0 0 1.0132 1907.89 1479.42)">150</text>
</g>
<g id="titles">
<text font-size="86" transform="matrix(0.9935 0 0 1.0031 714.18 1588.98)">Chemical shift (ppm)</text>
<text font-size="88" transform="translate(83.37 1025.70) rotate(-90) scale(1.0063 1.0082)">Intensity</text>
<text font-size="87" transform="translate(83.94 680.81) rotate(-90) scale(0.9998 0.9885)">(a.u.)</text>
</g>
<g id="annotations">
<text font-size="90" transform="matrix(0.9741 0 0 1.0531 1344.74 141.45)">53</text>
<text font-size="90" transform="matrix(0.9866 0 0 1.0619 905.34 354.40)">–14</text>
<text font-size="90" transform="matrix(1.0130 0 0 1.0453 1254.18 365.16)">40</text>
<text font-size="90" transform="matrix(1.0212 0 0 1.0239 1034.12 467.58)">0</text>
<text font-size="90" transform="matrix(1.0661 0 0 0.9825 1853.54 468.02)">a</text>
<text font-size="90" transform="matrix(0.9614 0 0 0.9587 1852.50 774.24)">b</text>
<text font-size="90" transform="matrix(0.9926 0 0 0.9583 1858.53 1030.24)">c</text>
<text font-size="90" transform="matrix(0.9841 0 0 0.9746 1854.70 1225.42)">d</text>
</g>
</svg>
</body>
</html>
